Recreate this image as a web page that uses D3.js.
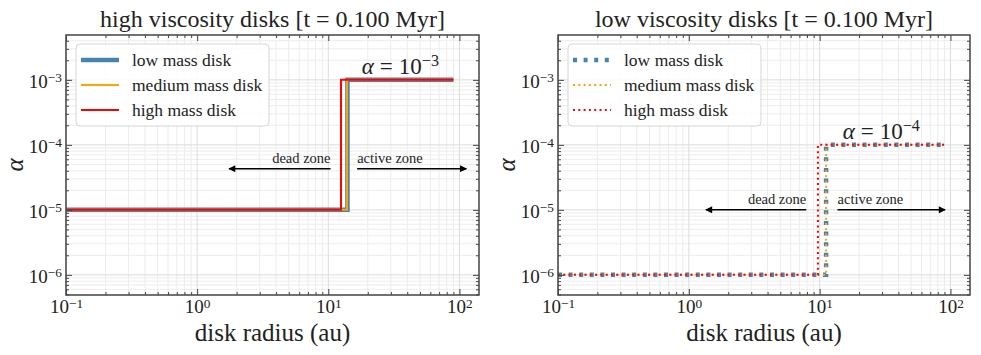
<!DOCTYPE html>
<html>
<head>
<meta charset="utf-8">
<script src="https://cdn.jsdelivr.net/npm/d3@7"></script>
<style>
  body { margin: 0; background: #fff; }
  svg { display: block; }
  text { font-family: "Liberation Serif", "DejaVu Serif", serif; fill: #222; }
</style>
</head>
<body>
<svg id="fig" width="981" height="355"></svg>
<script>
// ---- data ----
const panelTitles = ["high viscosity disks [t = 0.100 Myr]", "low viscosity disks [t = 0.100 Myr]"];
const seriesNames = ["low mass disk", "medium mass disk", "high mass disk"];
const seriesColors = ["#4682b4", "#ffa500", "#ff0000"];

// step profiles: radius (au) and alpha, one row per series (low, medium, high)
const highViscRadius = [[0.1, 14.0, 14.0, 90], [0.1, 13.9, 13.9, 90], [0.1, 12.5, 12.5, 90]];
const highViscAlpha = [1e-5, 1e-5, 1e-3, 1e-3];
const lowViscRadius = [[0.1, 11.2, 11.2, 90], [0.1, 11.2, 11.2, 90], [0.1, 9.7, 9.7, 90]];
const lowViscAlpha = [1e-6, 1e-6, 1e-4, 1e-4];

const alphaExponents = [-3, -4];
const alphaLabelPos = [[18, 1.25e-3], [15, 1.25e-4]];
const deadArrow = [[[10.4, 4.3e-5], [1.75, 4.3e-5]], [[7.9, 1e-5], [1.35, 1e-5]]];
const activeArrow = [[[16.6, 4.3e-5], [113, 4.3e-5]], [[13.7, 1e-5], [91, 1e-5]]];

const xTicks = [0.1, 1, 10, 100];
const yTicks = [1e-6, 1e-5, 1e-4, 1e-3];
const xDomain = [0.1, 141];
const yDomain = [4.9e-7, 4.9e-3];

// ---- layout ----
const svg = d3.select("#fig");
const plotTop = 35, plotBottom = 295;
const panelX = [[66, 479], [558, 970]];

svg.append("defs").append("marker")
    .attr("id", "head")
    .attr("viewBox", "0 0 10 10")
    .attr("refX", 9).attr("refY", 5)
    .attr("markerUnits", "userSpaceOnUse")
    .attr("markerWidth", 10).attr("markerHeight", 7)
    .attr("orient", "auto")
  .append("path")
    .attr("d", "M0,0 L10,5 L0,10 z")
    .attr("fill", "#000");

function minorOf(domain) {
    const out = [];
    for (let e = -8; e <= 3; e++) {
        for (let m = 2; m <= 9; m++) {
            const v = m * Math.pow(10, e);
            if (v > domain[0] && v < domain[1]) out.push(v);
        }
    }
    return out;
}

function power(sel) {
    sel.each(function(d) {
        const t = d3.select(this);
        const e = Math.round(Math.log10(d));
        t.text(null);
        t.append("tspan").text("10");
        t.append("tspan").attr("dy", "-0.4em").attr("font-size", "0.7em")
            .text(e < 0 ? "\u2212" + (-e) : e);
    });
}

function drawPanel(i, radius, alpha, dotted) {
    const [x0, x1] = panelX[i];
    const x = d3.scaleLog().domain(xDomain).range([x0, x1]);
    const y = d3.scaleLog().domain(yDomain).range([plotBottom, plotTop]);
    const xMinor = minorOf(xDomain);
    const yMinor = minorOf(yDomain);
    const g = svg.append("g");

    // grid
    const grid = g.append("g");
    grid.selectAll("line.xm").data(xMinor).join("line")
        .attr("x1", d => x(d)).attr("x2", d => x(d)).attr("y1", plotTop).attr("y2", plotBottom)
        .attr("stroke", "#ececec").attr("stroke-width", 1);
    grid.selectAll("line.ym").data(yMinor).join("line")
        .attr("y1", d => y(d)).attr("y2", d => y(d)).attr("x1", x0).attr("x2", x1)
        .attr("stroke", "#ececec").attr("stroke-width", 1);
    grid.selectAll("line.xM").data(xTicks).join("line")
        .attr("x1", d => x(d)).attr("x2", d => x(d)).attr("y1", plotTop).attr("y2", plotBottom)
        .attr("stroke", "#dcdcdc").attr("stroke-width", 1);
    grid.selectAll("line.yM").data(yTicks).join("line")
        .attr("y1", d => y(d)).attr("y2", d => y(d)).attr("x1", x0).attr("x2", x1)
        .attr("stroke", "#dcdcdc").attr("stroke-width", 1);

    // clip
    const clipId = "clip" + i;
    svg.select("defs").append("clipPath").attr("id", clipId)
        .append("rect").attr("x", x0).attr("y", plotTop).attr("width", x1 - x0).attr("height", plotBottom - plotTop);

    // zone arrows
    const arrows = g.append("g");
    [deadArrow[i], activeArrow[i]].forEach(a => {
        arrows.append("line")
            .attr("x1", x(a[0][0])).attr("y1", y(a[0][1]))
            .attr("x2", x(a[1][0])).attr("y2", y(a[1][1]))
            .attr("stroke", "#000").attr("stroke-width", 1.5)
            .attr("marker-end", "url(#head)");
    });
    arrows.append("text")
        .attr("x", x(deadArrow[i][0][0])).attr("y", y(deadArrow[i][0][1]) - 6)
        .attr("text-anchor", "end").attr("font-size", 14.5).text("dead zone");
    arrows.append("text")
        .attr("x", x(activeArrow[i][0][0])).attr("y", y(activeArrow[i][0][1]) - 6)
        .attr("text-anchor", "start").attr("font-size", 14.5).text("active zone");

    // series
    const line = d3.line().x(d => x(d[0])).y(d => y(d[1]));
    const widths = [4.5, 2, 2];
    const dots = [[4, 6.6], [2, 3.3], [2, 3.3]];
    const series = g.append("g").attr("clip-path", `url(#${clipId})`);
    radius.forEach((r, k) => {
        series.append("path")
            .datum(r.map((v, j) => [v, alpha[j]]))
            .attr("d", line)
            .attr("fill", "none")
            .attr("stroke", seriesColors[k])
            .attr("stroke-width", widths[k])
            .attr("stroke-dasharray", dotted ? dots[k].join(",") : null);
    });

    // alpha label
    const al = g.append("text")
        .attr("x", x(alphaLabelPos[i][0])).attr("y", y(alphaLabelPos[i][1]))
        .attr("font-size", 23);
    al.append("tspan").attr("font-style", "italic").text("\u03b1");
    al.append("tspan").attr("dx", 6).text("=");
    al.append("tspan").attr("dx", 6).text("10");
    al.append("tspan").attr("dy", "-0.5em").attr("font-size", "0.7em")
        .text("\u2212" + (-alphaExponents[i]));

    // axes: inward ticks on all sides
    const axColor = "#444";
    const bottomAx = g.append("g").attr("transform", `translate(0,${plotBottom})`)
        .call(d3.axisBottom(x).tickValues(xTicks).tickSizeInner(-6).tickSizeOuter(0).tickPadding(4.5));
    bottomAx.selectAll(".tick text").attr("font-size", 19).call(power);
    g.append("g").attr("transform", `translate(0,${plotBottom})`)
        .call(d3.axisBottom(x).tickValues(xMinor).tickSizeInner(-3).tickSizeOuter(0).tickFormat(""));
    g.append("g").attr("transform", `translate(0,${plotTop})`)
        .call(d3.axisTop(x).tickValues(xTicks).tickSizeInner(-6).tickSizeOuter(0).tickFormat(""));
    g.append("g").attr("transform", `translate(0,${plotTop})`)
        .call(d3.axisTop(x).tickValues(xMinor).tickSizeInner(-3).tickSizeOuter(0).tickFormat(""));
    const leftAx = g.append("g").attr("transform", `translate(${x0},0)`)
        .call(d3.axisLeft(y).tickValues(yTicks).tickSizeInner(-6).tickSizeOuter(0).tickPadding(4));
    leftAx.selectAll(".tick text").attr("font-size", 19).attr("dy", "0.38em").call(power);
    g.append("g").attr("transform", `translate(${x0},0)`)
        .call(d3.axisLeft(y).tickValues(yMinor).tickSizeInner(-3).tickSizeOuter(0).tickFormat(""));
    g.append("g").attr("transform", `translate(${x1},0)`)
        .call(d3.axisRight(y).tickValues(yTicks).tickSizeInner(-6).tickSizeOuter(0).tickFormat(""));
    g.append("g").attr("transform", `translate(${x1},0)`)
        .call(d3.axisRight(y).tickValues(yMinor).tickSizeInner(-3).tickSizeOuter(0).tickFormat(""));
    g.selectAll(".domain").remove();
    g.selectAll(".tick line").attr("stroke", axColor).attr("stroke-width", 1);
    g.selectAll(".tick text").attr("fill", "#222").attr("font-family", "Liberation Serif, serif");

    g.append("rect")
        .attr("x", x0).attr("y", plotTop).attr("width", x1 - x0).attr("height", plotBottom - plotTop)
        .attr("fill", "none").attr("stroke", axColor).attr("stroke-width", 1.5);

    // legend
    const lx = x0 + 10, ly = plotTop + 9;
    const leg = g.append("g").attr("transform", `translate(${lx},${ly})`);
    leg.append("rect").attr("width", 193).attr("height", 82).attr("rx", 4)
        .attr("fill", "#fff").attr("fill-opacity", 0.85)
        .attr("stroke", "#d6d6d6").attr("stroke-width", 1);
    seriesNames.forEach((name, k) => {
        const yy = 16 + k * 25;
        leg.append("line").attr("x1", 5).attr("x2", 43).attr("y1", yy).attr("y2", yy)
            .attr("stroke", seriesColors[k]).attr("stroke-width", widths[k])
            .attr("stroke-dasharray", dotted ? dots[k].join(",") : null);
        leg.append("text").attr("x", 56).attr("y", yy + 6)
            .attr("font-size", 17.5).text(name);
    });

    // titles and axis labels
    const cx = (x0 + x1) / 2;
    g.append("text").attr("x", cx).attr("y", 27).attr("text-anchor", "middle")
        .attr("font-size", 24).text(panelTitles[i]);
    g.append("text").attr("x", cx).attr("y", 341).attr("text-anchor", "middle")
        .attr("font-size", 25).text("disk radius (au)");
    g.append("text")
        .attr("transform", `translate(${x0 - 43},${(plotTop + plotBottom) / 2}) rotate(-90)`)
        .attr("text-anchor", "middle").attr("font-size", 25).attr("font-style", "italic")
        .text("\u03b1");
}

drawPanel(0, highViscRadius, highViscAlpha, false);
drawPanel(1, lowViscRadius, lowViscAlpha, true);
</script>
</body>
</html>
